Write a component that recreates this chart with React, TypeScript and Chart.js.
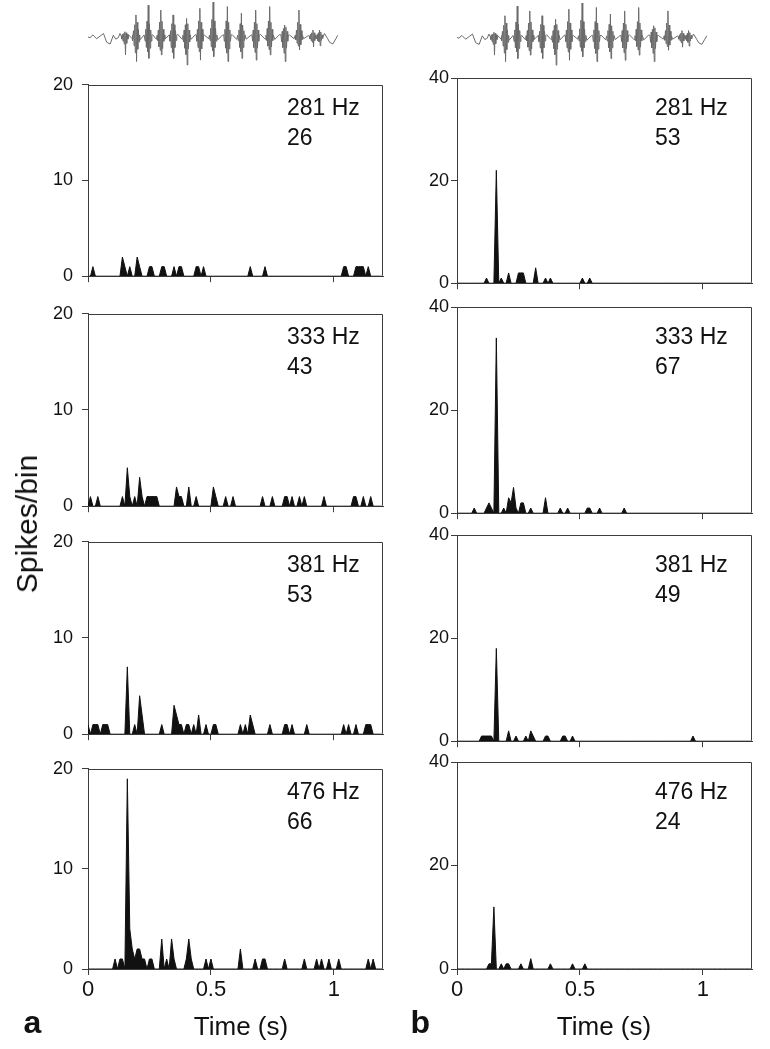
import React, { useEffect, useRef } from 'react';
import { Chart, registerables } from 'chart.js';

Chart.register(...registerables);

const FONT = '"Liberation Sans", Arial, Helvetica, sans-serif';
const AXIS = '#3c3c3c';
const TEXT = '#111111';

// ---------- shared axis data ----------
const BIN_WIDTH = 0.01; // s
const N_BINS = 121;
const timeTicks = [0, 0.5, 1];
const leftYTicks = [0, 10, 20];
const rightYTicks = [0, 20, 40];
const freqLabels = ['281 Hz', '333 Hz', '381 Hz', '476 Hz'];
const leftTotals = ['26', '43', '53', '66'];
const rightTotals = ['53', '67', '49', '24'];

// ---------- PSTH data (bin index, spikes/bin) ----------
// column a
const a281Bins = [2, 14, 15, 17, 20, 21, 25, 26, 30, 31, 35, 37, 38, 44, 45, 47, 66, 72, 104, 105, 109, 110, 111, 112, 114];
const a281Counts = [1, 2, 1, 1, 2, 1, 1, 1, 1, 1, 1, 1, 1, 1, 1, 1, 1, 1, 1, 1, 1, 1, 1, 1, 1];
const a333Bins = [1, 4, 14, 16, 17, 19, 21, 22, 24, 25, 26, 27, 28, 36, 37, 38, 41, 44, 51, 52, 56, 59, 71, 75, 80, 81, 83, 86, 88, 96, 108, 109, 112, 115];
const a333Counts = [1, 1, 1, 4, 1, 1, 3, 1, 1, 1, 1, 1, 1, 2, 1, 1, 2, 1, 2, 1, 1, 1, 1, 1, 1, 1, 1, 1, 1, 1, 1, 1, 1, 1];
const a381Bins = [0, 2, 3, 4, 6, 7, 8, 16, 19, 21, 22, 30, 35, 36, 37, 38, 40, 41, 43, 45, 48, 51, 52, 62, 64, 66, 67, 74, 80, 81, 83, 89, 104, 106, 109, 113, 114, 115];
const a381Counts = [1, 1, 1, 1, 1, 1, 1, 7, 1, 4, 2, 1, 3, 2, 1, 1, 1, 1, 1, 2, 1, 1, 1, 1, 1, 2, 1, 1, 1, 1, 1, 1, 1, 1, 1, 1, 1, 1];
const a476Bins = [11, 13, 14, 16, 17, 18, 19, 20, 21, 22, 23, 25, 26, 30, 32, 34, 35, 40, 41, 42, 48, 50, 62, 68, 71, 72, 80, 88, 93, 95, 98, 102, 114, 116];
const a476Counts = [1, 1, 1, 19, 4, 2, 1, 2, 2, 1, 1, 1, 1, 3, 1, 3, 1, 1, 3, 1, 1, 1, 2, 1, 1, 1, 1, 1, 1, 1, 1, 1, 1, 1];
// column b
const b281Bins = [12, 16, 18, 21, 25, 26, 27, 32, 36, 38, 51, 54];
const b281Counts = [1, 22, 1, 2, 2, 2, 2, 3, 1, 1, 1, 1];
const b333Bins = [7, 12, 13, 14, 16, 19, 21, 22, 23, 24, 26, 27, 30, 36, 42, 45, 53, 54, 58, 68];
const b333Counts = [1, 1, 2, 1, 34, 1, 3, 2, 5, 1, 2, 2, 1, 3, 1, 1, 1, 1, 1, 1];
const b381Bins = [10, 11, 12, 13, 14, 16, 21, 24, 28, 30, 31, 36, 37, 43, 44, 47, 96];
const b381Counts = [1, 1, 1, 1, 1, 18, 2, 1, 1, 2, 1, 1, 1, 1, 1, 1, 1];
const b476Bins = [13, 14, 15, 18, 20, 21, 26, 30, 38, 47, 52];
const b476Counts = [1, 1, 12, 1, 1, 1, 1, 2, 1, 1, 1];

// ---------- stimulus waveform (time s, relative amplitude) ----------
const waveStartT = [0.0, 0.008, 0.02, 0.035, 0.05, 0.063, 0.076, 0.09, 0.103, 0.113, 0.123, 0.13];
const waveStartV = [0.0, -0.02, 0.06, -0.05, 0.03, 0.1, -0.15, -0.2, 0.05, -0.06, -0.02, 0.1];
const pulseCenters = [0.15, 0.195, 0.245, 0.296, 0.346, 0.401, 0.455, 0.509, 0.567, 0.624, 0.682, 0.739, 0.8, 0.858, 0.915, 0.942];
const pulseOffsets = [-0.015, -0.0125, -0.01, -0.0075, -0.005, -0.0025, 0, 0.0025, 0.005, 0.0075, 0.01, 0.0125, 0.015];
const pulseValues = [
  [0.03, -0.06, 0.08, -0.12, 0.1, -0.2, 0.15, -0.51, 0.12, -0.18, 0.08, -0.06, 0.03],
  [0.05, -0.1, 0.18, -0.25, 0.35, -0.45, 0.63, -0.7, 0.42, -0.35, 0.22, -0.14, 0.06],
  [0.06, -0.12, 0.22, -0.3, 0.45, -0.42, 0.91, -0.61, 0.38, -0.32, 0.2, -0.12, 0.05],
  [0.05, -0.1, 0.2, -0.28, 0.42, -0.38, 0.77, -0.51, 0.45, -0.33, 0.22, -0.12, 0.06],
  [0.06, -0.12, 0.18, -0.3, 0.38, -0.45, 0.63, -0.61, 0.35, -0.3, 0.18, -0.1, 0.05],
  [0.05, -0.14, 0.2, -0.32, 0.35, -0.5, 0.53, -0.8, 0.38, -0.34, 0.2, -0.14, 0.06],
  [0.06, -0.12, 0.22, -0.3, 0.46, -0.42, 0.82, -0.66, 0.42, -0.34, 0.22, -0.12, 0.05],
  [0.05, -0.1, 0.25, -0.28, 0.5, -0.4, 1.0, -0.56, 0.46, -0.3, 0.24, -0.12, 0.06],
  [0.06, -0.12, 0.22, -0.32, 0.46, -0.46, 0.87, -0.7, 0.42, -0.34, 0.2, -0.12, 0.05],
  [0.05, -0.1, 0.2, -0.3, 0.38, -0.42, 0.68, -0.61, 0.34, -0.3, 0.18, -0.1, 0.06],
  [0.06, -0.12, 0.2, -0.3, 0.42, -0.44, 0.77, -0.66, 0.38, -0.32, 0.2, -0.12, 0.05],
  [0.05, -0.1, 0.24, -0.26, 0.46, -0.36, 0.87, -0.51, 0.42, -0.28, 0.22, -0.1, 0.06],
  [0.06, -0.14, 0.16, -0.3, 0.24, -0.46, 0.34, -0.7, 0.28, -0.32, 0.16, -0.12, 0.05],
  [0.05, -0.08, 0.2, -0.18, 0.42, -0.26, 0.77, -0.37, 0.36, -0.22, 0.18, -0.08, 0.04],
  [0.03, -0.05, 0.08, -0.1, 0.12, -0.15, 0.2, -0.28, 0.12, -0.1, 0.06, -0.04, 0.02],
  [0.02, -0.05, 0.07, -0.1, 0.12, -0.14, 0.2, -0.25, 0.14, -0.1, 0.06, -0.04, 0.02],
];
const gapValuesA = [0.06, -0.08, 0.07, -0.06, 0.08, -0.07, 0.06, -0.08, 0.07, -0.06, 0.08, -0.07, 0.06, -0.05, 0.04];
const gapValuesB = [-0.05, 0.06, -0.07, 0.05, -0.06, 0.07, -0.05, 0.06, -0.07, 0.05, -0.06, 0.07, -0.05, 0.04, -0.03];
const waveEndT = [0.962, 0.975, 0.983, 0.996, 1.008, 1.016];
const waveEndV = [0.1, -0.05, -0.15, -0.2, -0.05, 0.05];

// ---------- layout ----------
const rowTops = [78, 307, 535, 762];
const rowBottoms = [285, 515, 743, 969];
const cols = [
  { canvasLeft: 0, canvasWidth: 390, axisW: 88, padRight: 7, yPad: 9, textLeft: 287, waveTop: 2 },
  { canvasLeft: 400, canvasWidth: 360, axisW: 57, padRight: 8, yPad: 2, textLeft: 655, waveTop: 3 },
];
const TOP_PAD = 13;

function densePoints(bins: number[], counts: number[]) {
  const pts: { x: number; y: number }[] = [];
  for (let i = 0; i < N_BINS; i++) {
    const k = bins.indexOf(i);
    pts.push({ x: i * BIN_WIDTH, y: k >= 0 ? counts[k] : 0 });
  }
  return pts;
}

function wavePoints() {
  const pts: { x: number; y: number }[] = [];
  waveStartT.forEach((t, i) => pts.push({ x: t, y: waveStartV[i] }));
  pulseCenters.forEach((c, p) => {
    pulseOffsets.forEach((o, j) => pts.push({ x: c + o, y: pulseValues[p][j] }));
    if (p < pulseCenters.length - 1) {
      const n = pulseCenters[p + 1];
      pts.push({ x: c + (n - c) / 3, y: gapValuesA[p] });
      pts.push({ x: c + (2 * (n - c)) / 3, y: gapValuesB[p] });
    }
  });
  waveEndT.forEach((t, i) => pts.push({ x: t, y: waveEndV[i] }));
  return pts;
}

const boxPlugin = {
  id: 'boxFrame',
  afterDraw(chart: any) {
    const a = chart.chartArea;
    const ctx = chart.ctx;
    ctx.save();
    ctx.strokeStyle = AXIS;
    ctx.lineWidth = 1;
    const l = Math.round(a.left) + 0.5;
    const r = Math.round(a.right) - 0.5;
    const t = Math.round(a.top) + 0.5;
    const b = Math.round(a.bottom) - 0.5;
    ctx.beginPath();
    ctx.moveTo(l, t);
    ctx.lineTo(r, t);
    ctx.lineTo(r, b);
    ctx.stroke();
    ctx.restore();
  },
};

function panelConfig(bins: number[], counts: number[], yMax: number, yTicks: number[], isBottom: boolean, col: any, xh: number) {
  return {
    type: 'line',
    data: {
      datasets: [
        {
          data: densePoints(bins, counts),
          borderColor: '#111',
          backgroundColor: '#111',
          borderWidth: 1,
          pointRadius: 0,
          fill: 'origin',
          tension: 0,
        },
      ],
    },
    options: {
      responsive: false,
      animation: false,
      events: [],
      layout: { padding: { left: 0, right: col.padRight, top: TOP_PAD, bottom: 0 } },
      plugins: { legend: { display: false }, tooltip: { enabled: false } },
      scales: {
        x: {
          type: 'linear',
          min: 0,
          max: 1.2,
          afterBuildTicks: (s: any) => {
            s.ticks = timeTicks.map((v) => ({ value: v }));
          },
          afterFit: (s: any) => {
            s.height = xh;
          },
          grid: { display: true, drawOnChartArea: false, drawTicks: true, tickLength: 6, color: AXIS, lineWidth: 1 },
          border: { display: true, color: AXIS, width: 1 },
          ticks: {
            display: isBottom,
            autoSkip: false,
            maxRotation: 0,
            padding: 2,
            color: TEXT,
            font: { family: FONT, size: 22 },
            callback: (v: any) => String(v),
          },
        },
        y: {
          type: 'linear',
          min: 0,
          max: yMax,
          afterBuildTicks: (s: any) => {
            s.ticks = yTicks.map((v) => ({ value: v }));
          },
          afterFit: (s: any) => {
            s.width = col.axisW;
          },
          grid: { display: true, drawOnChartArea: false, drawTicks: true, tickLength: 6, color: AXIS, lineWidth: 1 },
          border: { display: true, color: AXIS, width: 1 },
          ticks: {
            padding: col.yPad,
            color: TEXT,
            font: { family: FONT, size: 18 },
            callback: (v: any) => String(v),
          },
        },
      },
    },
    plugins: [boxPlugin],
  };
}

function waveConfig(col: any) {
  return {
    type: 'line',
    data: {
      datasets: [
        {
          data: wavePoints(),
          borderColor: '#6a6a6a',
          borderWidth: 1,
          pointRadius: 0,
          fill: false,
          tension: 0,
        },
      ],
    },
    options: {
      responsive: false,
      animation: false,
      events: [],
      layout: { padding: { left: col.axisW, right: col.padRight, top: col.waveTop, bottom: 4 } },
      plugins: { legend: { display: false }, tooltip: { enabled: false } },
      scales: {
        x: { type: 'linear', min: 0, max: 1.2, display: false },
        y: { type: 'linear', min: -1, max: 1, display: false },
      },
    },
  };
}

function ChartCanvas({ make, left, top, width, height }: any) {
  const ref = useRef<HTMLCanvasElement | null>(null);
  useEffect(() => {
    if (!ref.current) return;
    const chart = new Chart(ref.current, make());
    return () => chart.destroy();
  }, []);
  return (
    <canvas
      ref={ref}
      width={width}
      height={height}
      style={{ position: 'absolute', left, top, width, height, display: 'block' }}
    />
  );
}

const panelData = [
  [
    [a281Bins, a281Counts],
    [a333Bins, a333Counts],
    [a381Bins, a381Counts],
    [a476Bins, a476Counts],
  ],
  [
    [b281Bins, b281Counts],
    [b333Bins, b333Counts],
    [b381Bins, b381Counts],
    [b476Bins, b476Counts],
  ],
];

export default function App() {
  const items: any[] = [];
  cols.forEach((col, c) => {
    const yMax = c === 0 ? 20 : 40;
    const yTicks = c === 0 ? leftYTicks : rightYTicks;
    const totals = c === 0 ? leftTotals : rightTotals;
    items.push(
      <ChartCanvas
        key={`w${c}`}
        make={() => waveConfig(col)}
        left={col.canvasLeft}
        top={0}
        width={col.canvasWidth}
        height={76}
      />
    );
    rowTops.forEach((T, r) => {
      const B = rowBottoms[r];
      const isBottom = r === 3;
      const xh = isBottom ? 45 : 11;
      const [bins, counts] = panelData[c][r] as any;
      items.push(
        <ChartCanvas
          key={`p${c}${r}`}
          make={() => panelConfig(bins, counts, yMax, yTicks, isBottom, col, xh)}
          left={col.canvasLeft}
          top={T - TOP_PAD}
          width={col.canvasWidth}
          height={TOP_PAD + (B - T) + xh}
        />
      );
      items.push(
        <div
          key={`t${c}${r}`}
          style={{
            position: 'absolute',
            left: col.textLeft,
            top: T + 14,
            fontFamily: FONT,
            fontSize: 23,
            lineHeight: '30px',
            color: TEXT,
            whiteSpace: 'nowrap',
          }}
        >
          <div>{freqLabels[r]}</div>
          <div>{totals[r]}</div>
        </div>
      );
    });
  });

  return (
    <div
      style={{
        position: 'absolute',
        left: 0,
        top: 0,
        width: 770,
        height: 1049,
        background: '#ffffff',
        overflow: 'hidden',
        fontFamily: FONT,
      }}
    >
      {items}
      <div
        style={{
          position: 'absolute',
          left: 27,
          top: 524,
          transform: 'translate(-50%, -50%) rotate(-90deg)',
          fontSize: 30,
          lineHeight: '30px',
          color: TEXT,
          whiteSpace: 'nowrap',
        }}
      >
        Spikes/bin
      </div>
      <div style={{ position: 'absolute', left: 141, top: 1013, width: 200, textAlign: 'center', fontSize: 26, lineHeight: '26px', color: TEXT }}>
        Time (s)
      </div>
      <div style={{ position: 'absolute', left: 504, top: 1013, width: 200, textAlign: 'center', fontSize: 26, lineHeight: '26px', color: TEXT }}>
        Time (s)
      </div>
      <div style={{ position: 'absolute', left: 23.5, top: 1006, fontSize: 32, lineHeight: '32px', fontWeight: 'bold', color: TEXT }}>
        a
      </div>
      <div style={{ position: 'absolute', left: 410.5, top: 1006, fontSize: 32, lineHeight: '32px', fontWeight: 'bold', color: TEXT }}>
        b
      </div>
    </div>
  );
}
